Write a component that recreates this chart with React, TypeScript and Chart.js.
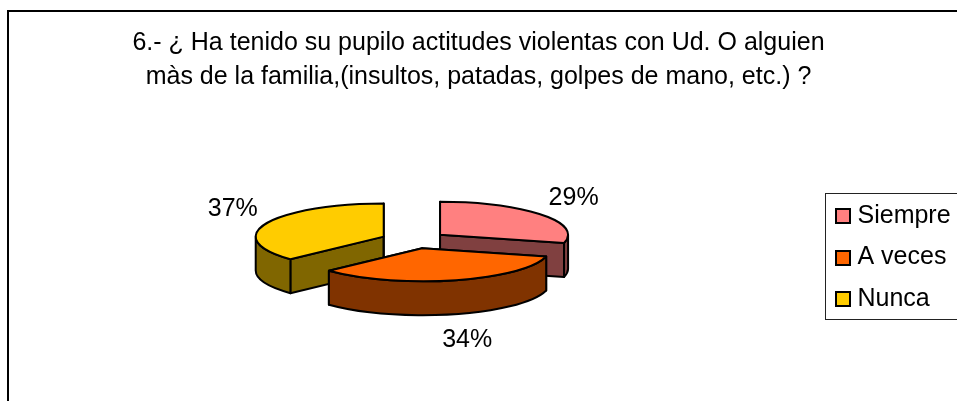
import React, { useEffect, useRef } from "react";
import { Chart, registerables } from "chart.js";

Chart.register(...registerables);

const titleLines = [
  "6.- ¿ Ha tenido su pupilo actitudes violentas con Ud. O alguien",
  "màs de la familia,(insultos, patadas, golpes de mano, etc.) ?",
];
const categories = ["Siempre", "A veces", "Nunca"];
const values = [29, 34, 37];
const topColors = ["#FF8080", "#FF6600", "#FFCC00"];
const sideColors = ["#804040", "#803300", "#806600"];

const FONT = '"Liberation Sans", Arial, sans-serif';
const TILT = 33 / 128;
const DEPTH = 34;
const PIE_CENTER = { x: 414, y: 240 };
const LABEL_RX = [169, 181, 164.5];
const LABEL_RY = [60, 60, 70];
const LEGEND_FIRST_ROW_Y = 216;

const pie3d = {
  id: "pie3d",
  beforeDraw(chart: any) {
    const { ctx, width, height } = chart;
    ctx.save();
    ctx.fillStyle = "#fff";
    ctx.fillRect(0, 0, width, height);
    ctx.strokeStyle = "#000";
    ctx.lineWidth = 2;
    ctx.strokeRect(8, 11, width + 50, height + 50);
    ctx.restore();
  },
  afterLayout(chart: any) {
    const legend = chart.legend;
    legend.adjustHitBoxes();
    const first = legend.legendHitBoxes[0];
    if (!first) return;
    const d = LEGEND_FIRST_ROW_Y - (first.top + first.height / 2);
    legend.top += d;
    legend.bottom += d;
    legend.adjustHitBoxes();
  },
  beforeDatasetDraw(chart: any) {
    const { ctx } = chart;
    const arcs = chart.getDatasetMeta(0).data;
    const order = [2, 0, 1];
    const total = values.reduce((a, b) => a + b, 0);
    ctx.save();
    ctx.lineWidth = 2;
    ctx.strokeStyle = "#000";
    ctx.lineJoin = "round";
    for (const i of order) {
      const arc = arcs[i];
      const { startAngle: a0, endAngle: a1, outerRadius: r } = arc.getProps(
        ["startAngle", "endAngle", "outerRadius"],
        true
      );
      const offset = arc.options.offset;
      const mid = (a0 + a1) / 2;
      const cx = PIE_CENTER.x + Math.cos(mid) * offset;
      const cy = PIE_CENTER.y + Math.sin(mid) * offset * TILT;
      const rx = r;
      const ry = r * TILT;
      const px = (a: number) => cx + rx * Math.cos(a);
      const py = (a: number) => cy + ry * Math.sin(a);
      ctx.fillStyle = sideColors[i];
      for (const a of [a0, a1]) {
        ctx.beginPath();
        ctx.moveTo(cx, cy);
        ctx.lineTo(px(a), py(a));
        ctx.lineTo(px(a), py(a) + DEPTH);
        ctx.lineTo(cx, cy + DEPTH);
        ctx.closePath();
        ctx.fill();
        ctx.stroke();
      }
      const ranges: [number, number][] = [
        [0, Math.PI],
        [2 * Math.PI, 3 * Math.PI],
      ];
      for (const [lo, hi] of ranges) {
        const s = Math.max(a0, lo);
        const e = Math.min(a1, hi);
        if (e <= s) continue;
        ctx.beginPath();
        ctx.ellipse(cx, cy, rx, ry, 0, s, e);
        ctx.ellipse(cx, cy + DEPTH, rx, ry, 0, e, s, true);
        ctx.closePath();
        ctx.fill();
        ctx.stroke();
      }
      ctx.fillStyle = topColors[i];
      ctx.beginPath();
      ctx.moveTo(cx, cy);
      ctx.ellipse(cx, cy, rx, ry, 0, a0, a1);
      ctx.closePath();
      ctx.fill();
      ctx.stroke();
    }
    ctx.fillStyle = "#000";
    ctx.font = `25px ${FONT}`;
    ctx.textAlign = "center";
    ctx.textBaseline = "middle";
    arcs.forEach((arc: any, i: number) => {
      const { startAngle: a0, endAngle: a1 } = arc.getProps(["startAngle", "endAngle"], true);
      const mid = (a0 + a1) / 2;
      const offset = arc.options.offset;
      const cx = PIE_CENTER.x + Math.cos(mid) * offset;
      const cy = PIE_CENTER.y + Math.sin(mid) * offset * TILT;
      const s = Math.sin(mid);
      const x = cx + Math.cos(mid) * LABEL_RX[i];
      const y = cy + s * LABEL_RY[i] + (s > 0 ? DEPTH : 0);
      ctx.fillText(`${Math.round((values[i] / total) * 100)}%`, x, y);
    });
    ctx.restore();
    return false;
  },
  afterDraw(chart: any) {
    const { ctx, legend } = chart;
    const boxes = legend.legendHitBoxes;
    if (!boxes || !boxes.length) return;
    const center = (b: any) => b.top + b.height / 2;
    ctx.save();
    ctx.strokeStyle = "#222";
    ctx.lineWidth = 1;
    const top = Math.round(center(boxes[0]) - 23);
    const bottom = Math.round(center(boxes[boxes.length - 1]) + 20);
    ctx.strokeRect(825.5, top + 0.5, 200, bottom - top);
    ctx.strokeStyle = "#000";
    ctx.lineWidth = 2;
    boxes.forEach((b: any, i: number) => {
      ctx.fillStyle = topColors[i];
      const y = Math.round(center(b) - 7);
      ctx.fillRect(836, y, 14, 14);
      ctx.strokeRect(836, y, 14, 14);
    });
    ctx.restore();
  },
};

export default function App() {
  const ref = useRef<HTMLCanvasElement>(null);
  useEffect(() => {
    const chart = new Chart(ref.current!, {
      type: "pie",
      data: {
        labels: categories,
        datasets: [
          {
            data: values,
            backgroundColor: topColors,
            offset: 33,
            borderWidth: 0,
          },
        ],
      },
      options: {
        responsive: false,
        animation: false,
        radius: 128,
        plugins: {
          tooltip: { enabled: false },
          title: {
            display: true,
            text: titleLines,
            color: "#000",
            font: { family: FONT, size: 25, weight: "normal", lineHeight: 34 / 25 },
            padding: { top: 26.5, bottom: 11 },
          },
          legend: {
            position: "right",
            maxWidth: 138.5,
            labels: {
              color: "#000",
              font: { family: FONT, size: 25 },
              boxWidth: 10,
              boxHeight: 10,
              padding: 16.5,
              generateLabels: (c: any) =>
                c.data.labels.map((text: string, index: number) => ({
                  text,
                  index,
                  fillStyle: "transparent",
                  strokeStyle: "transparent",
                  lineWidth: 0,
                  fontColor: "#000",
                })),
            },
          },
        },
      },
      plugins: [pie3d],
    } as any);
    return () => chart.destroy();
  }, []);
  return (
    <div style={{ position: "fixed", left: 0, top: 0, width: 957, height: 401, overflow: "hidden", background: "#fff" }}>
      <canvas ref={ref} width={957} height={401} style={{ display: "block" }} />
    </div>
  );
}
